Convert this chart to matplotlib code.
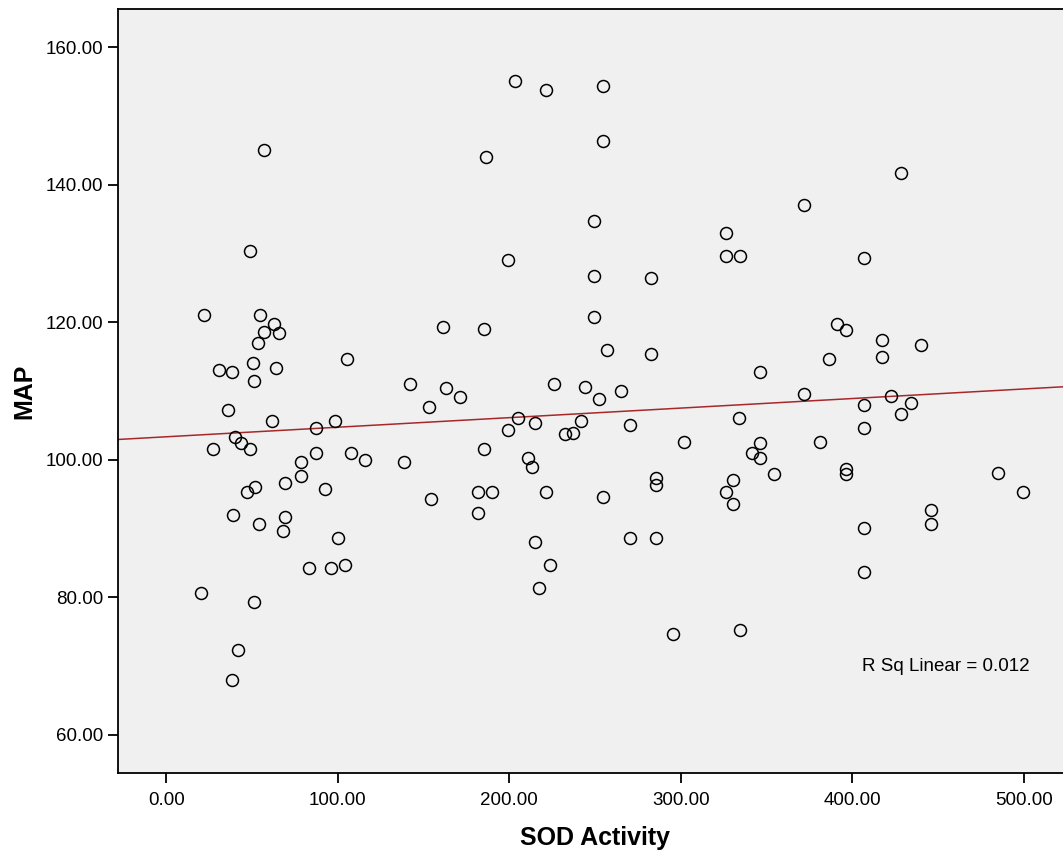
import numpy as np
import matplotlib
matplotlib.use("Agg")
import matplotlib.pyplot as plt

plt.rcParams["font.family"] = ["Liberation Sans", "DejaVu Sans"]

# SOD activity (x) and mean arterial pressure (y) per subject
sod_activity = [
    57.1, 48.6, 22.0, 54.6, 62.6, 57.1, 65.9, 53.3, 105.3, 161.4, 30.9, 38.1, 50.7, 63.9, 50.9, 142.4, 163.0, 171.0,
    35.8, 61.6, 87.2, 98.5, 153.1, 40.2, 43.4, 27.0, 48.8, 87.2, 107.5, 116.0, 138.9, 78.5, 78.5, 69.4, 51.9, 47.4,
    92.3, 154.3, 39.0, 54.2, 69.4, 68.2, 100.1, 83.4, 95.8, 104.0, 20.4, 51.3, 42.0, 38.1,
    203.3, 221.3, 254.5, 254.5, 186.7, 249.2, 326.6, 326.6, 334.3, 199.3, 249.2, 282.6, 371.8, 185.0, 249.2, 257.2,
    282.6, 346.0, 225.9, 244.4, 265.4, 252.3,
    205.2, 199.1, 215.1, 242.1, 232.3, 237.2, 270.6, 334.1, 301.9, 185.0, 211.0, 213.1, 346.0, 341.7, 346.0, 354.5,
    285.8, 285.8, 330.4, 326.6, 330.4, 181.8, 190.2, 181.8, 221.3, 254.5, 215.1, 270.6, 285.8, 223.6, 217.2, 295.5, 334.3,
    428.1, 406.6, 391.0, 396.1, 417.3, 440.2, 386.4, 417.3, 371.8, 422.7, 434.4, 407.0, 428.5, 406.6, 381.3, 396.1,
    396.1, 484.9, 499.4, 446.0, 446.0, 406.6, 406.6,
]
map_values = [
    145.0, 130.4, 121.0, 121.0, 119.7, 118.6, 118.4, 117.0, 114.7, 119.3, 113.0, 112.7, 114.0, 113.4, 111.4, 111.0, 110.4, 109.1,
    107.3, 105.6, 104.6, 105.6, 107.7, 103.3, 102.4, 101.6, 101.6, 101.0, 101.0, 99.9, 99.6, 99.6, 97.6, 96.6, 96.0, 95.3,
    95.7, 94.3, 92.0, 90.6, 91.7, 89.6, 88.6, 84.3, 84.3, 84.7, 80.6, 79.3, 72.3, 67.9,
    155.1, 153.7, 154.3, 146.4, 144.0, 134.7, 133.0, 129.6, 129.6, 129.0, 126.7, 126.4, 137.0, 119.0, 120.7, 116.0,
    115.3, 112.7, 111.0, 110.6, 110.0, 108.9,
    106.0, 104.3, 105.3, 105.6, 103.7, 103.9, 105.0, 106.0, 102.6, 101.6, 100.3, 99.0, 102.4, 101.0, 100.3, 97.9,
    97.4, 96.3, 97.0, 95.3, 93.6, 95.3, 95.3, 92.3, 95.3, 94.6, 88.0, 88.6, 88.6, 84.7, 81.3, 74.6, 75.3,
    141.7, 129.4, 119.7, 118.9, 117.4, 116.7, 114.7, 115.0, 109.6, 109.3, 108.3, 108.0, 106.7, 104.6, 102.6, 98.6,
    97.9, 98.0, 95.3, 92.7, 90.6, 90.0, 83.6,
]

x_ticks = [0, 100, 200, 300, 400, 500]
y_ticks = [60, 80, 100, 120, 140, 160]
r_sq_label = "R Sq Linear = 0.012"

fig = plt.figure(figsize=(10.63, 8.56), dpi=100)
ax = fig.add_axes([0.111, 0.0966, 0.898, 0.8934])
ax.set_facecolor("#f0f0f0")

x = np.array(sod_activity)
y = np.array(map_values)

ax.plot(x, y, linestyle="none", marker="o", markersize=8.6,
        markerfacecolor="none", markeredgecolor="black", markeredgewidth=1.1, zorder=3)

# least-squares fit line across the full x range
slope, intercept = np.polyfit(x, y, 1)
xlim = (-28.1, 528.4)
xs = np.array(xlim)
ax.plot(xs, intercept + slope * xs, color="#a8282a", linewidth=1.1, zorder=2)

ax.set_xlim(*xlim)
ax.set_ylim(54.4, 165.6)
ax.set_xticks(x_ticks)
ax.set_yticks(y_ticks)
ax.set_xticklabels([f"{v:.2f}" for v in x_ticks])
ax.set_yticklabels([f"{v:.2f}" for v in y_ticks])
ax.tick_params(axis="both", direction="out", length=7.5, width=1.3, labelsize=13.5,
               colors="black", pad=3)
ax.tick_params(axis="x", pad=6)

for side in ("top", "left", "bottom", "right"):
    ax.spines[side].set_linewidth(1.3)
    ax.spines[side].set_color("black")

ax.set_xlabel("SOD Activity", fontsize=18, fontweight="bold", labelpad=12)
ax.set_ylabel("MAP", fontsize=18, fontweight="bold", labelpad=7)

ax.text(405.4, 70.0, r_sq_label, fontsize=13.5, ha="left", va="center")

fig.savefig("out.png", dpi=100)
